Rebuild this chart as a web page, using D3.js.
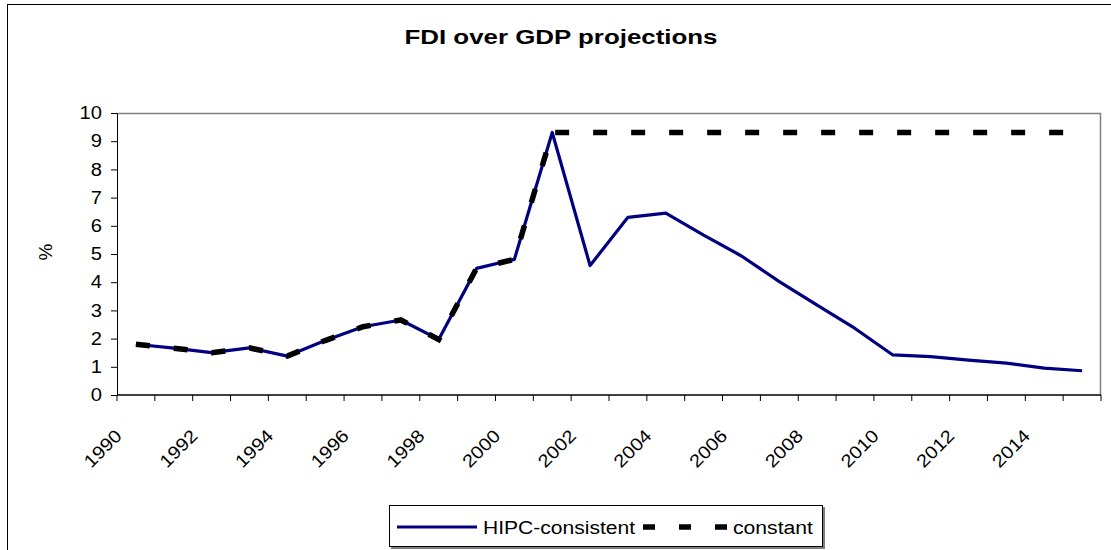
<!DOCTYPE html>
<html>
<head>
<meta charset="utf-8">
<script src="https://cdn.jsdelivr.net/npm/d3@7"></script>
<style>
body { margin: 0; background: #fff; }
text { font-family: "Liberation Sans", Arial, sans-serif; fill: #000; }
</style>
</head>
<body>
<div id="chart"></div>
<script>
const years = [1990, 1991, 1992, 1993, 1994, 1995, 1996, 1997, 1998, 1999, 2000, 2001, 2002,
    2003, 2004, 2005, 2006, 2007, 2008, 2009, 2010, 2011, 2012, 2013, 2014, 2015];
const hipc = [1.80, 1.66, 1.50, 1.67, 1.38, 1.93, 2.42, 2.66, 1.97, 4.49, 4.81, 9.31, 4.59,
    6.30, 6.45, 5.67, 4.93, 4.02, 3.19, 2.36, 1.42, 1.36, 1.24, 1.13, 0.95, 0.86];
const constant = [1.80, 1.66, 1.50, 1.67, 1.38, 1.93, 2.42, 2.66, 1.97, 4.49, 4.81, 9.31, 9.31,
    9.31, 9.31, 9.31, 9.31, 9.31, 9.31, 9.31, 9.31, 9.31, 9.31, 9.31, 9.31, 9.31];
const yTicks = [0, 1, 2, 3, 4, 5, 6, 7, 8, 9, 10];
const xLabels = [1990, 1992, 1994, 1996, 1998, 2000, 2002, 2004, 2006, 2008, 2010, 2012, 2014];

const W = 1111, H = 550;
const margin = {top: 113, right: 10, bottom: 155, left: 117},
width = W - margin.left - margin.right,
height = H - margin.top - margin.bottom;

// text in the original is a bit wider than plain Arial
const STRETCH = 1.12;
function stretch(sel, fixed) {
    sel.each(function() {
        const l = fixed || this.getComputedTextLength() * STRETCH;
        d3.select(this).attr("textLength", l).attr("lengthAdjust", "spacingAndGlyphs");
    });
}

const svg = d3.select("#chart")
.append("svg")
.attr("width", W)
.attr("height", H);

// outer frame
svg.append("rect")
.attr("x", 7.5).attr("y", 4.5)
.attr("width", W + 10).attr("height", H + 10)
.attr("fill", "none").attr("stroke", "#000");

svg.append("text")
.attr("x", 561).attr("y", 44)
.attr("text-anchor", "middle")
.style("font-size", "20px")
.style("font-weight", "bold")
.text("FDI over GDP projections")
.call(stretch, 313);

const g = svg.append("g")
.attr("transform", "translate(" + margin.left + "," + margin.top + ")");

const x = d3.scaleBand()
.domain(years)
.range([0, width]);

const y = d3.scaleLinear()
.domain([0, 10])
.range([height, 0]);

// plot frame (top and right)
g.append("path")
.attr("d", "M0,0.5H" + (width - 0.5) + "V" + height)
.attr("fill", "none")
.attr("stroke", "#808080")
.attr("stroke-width", 1.5);

// y axis
const yAxis = g.append("g")
.call(d3.axisLeft(y).tickValues(yTicks).tickSize(6).tickPadding(9).tickSizeOuter(0));
yAxis.select(".domain").attr("stroke", "#000");
yAxis.selectAll("text")
.style("font-size", "18px")
.call(stretch);

// x axis: ticks between categories
const boundaries = years.map(d => x(d)).concat([width]);
const xAxis = g.append("g")
.attr("transform", "translate(0," + height + ")");
xAxis.append("line")
.attr("x1", 0).attr("x2", width)
.attr("stroke", "#000").attr("stroke-width", 1.5);
xAxis.selectAll(".tick")
.data(boundaries)
.enter()
.append("line")
.attr("x1", d => d).attr("x2", d => d)
.attr("y1", 0).attr("y2", 6)
.attr("stroke", "#000");

xAxis.selectAll(".xlabel")
.data(xLabels)
.enter()
.append("text")
.attr("class", "xlabel")
.attr("text-anchor", "end")
.style("font-size", "18px")
.attr("transform", d => "translate(" + (x(d) + x.bandwidth() / 2 - 13) + ",42) rotate(-45)")
.text(d => d)
.call(stretch);

svg.append("text")
.attr("transform", "translate(52,252) rotate(-90)")
.attr("text-anchor", "middle")
.style("font-size", "19px")
.text("%");

const line = d3.line()
.x((d, i) => x(years[i]) + x.bandwidth() / 2)
.y(d => y(d));

g.append("path")
.datum(hipc)
.attr("d", line)
.attr("fill", "none")
.attr("stroke", "#000080")
.attr("stroke-width", 3.2)
.attr("stroke-linejoin", "round");

g.append("path")
.datum(constant)
.attr("d", line)
.attr("fill", "none")
.attr("stroke", "#000")
.attr("stroke-width", 5.5)
.attr("stroke-dasharray", "14,24");

// legend
const lg = svg.append("g").attr("transform", "translate(389,505)");
lg.append("rect")
.attr("x", 2).attr("y", 2).attr("width", 434).attr("height", 42)
.attr("fill", "#808080");
lg.append("rect")
.attr("x", 0.5).attr("y", 0.5).attr("width", 433).attr("height", 41)
.attr("fill", "#fff").attr("stroke", "#000");
lg.append("line")
.attr("x1", 8).attr("x2", 88).attr("y1", 22).attr("y2", 22)
.attr("stroke", "#000080").attr("stroke-width", 3.2);
lg.append("text")
.attr("x", 94).attr("y", 28.5)
.style("font-size", "18px")
.text("HIPC-consistent")
.call(stretch, 152);
lg.append("line")
.attr("x1", 254).attr("x2", 340).attr("y1", 22).attr("y2", 22)
.attr("stroke", "#000").attr("stroke-width", 5.5)
.attr("stroke-dasharray", "12,24");
lg.append("text")
.attr("x", 344).attr("y", 28.5)
.style("font-size", "18px")
.text("constant")
.call(stretch, 80);
</script>
</body>
</html>
